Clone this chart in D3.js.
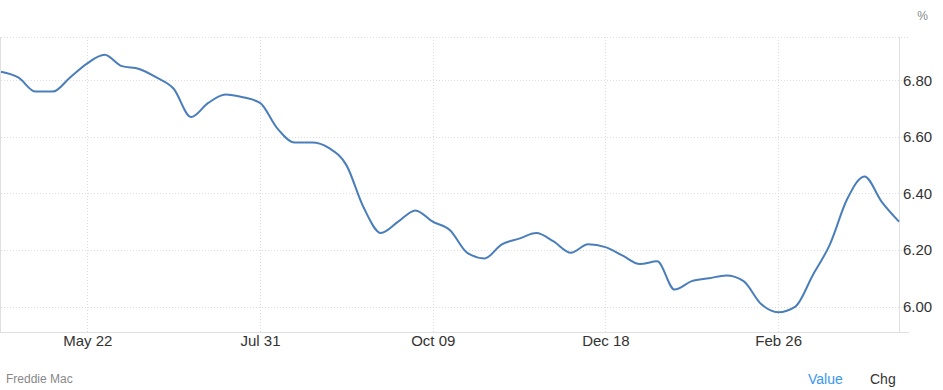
<!DOCTYPE html>
<html>
<head>
<meta charset="utf-8">
<script src="https://cdn.jsdelivr.net/npm/d3@7"></script>
<style>
  body { margin: 0; background: #fff; }
  svg { display: block; font-family: "Liberation Sans", Arial, sans-serif; }
</style>
</head>
<body>
<svg id="chart" width="943" height="390"></svg>
<script>
// weekly 30y rate, Freddie Mac
const dates = [
  '2025-04-17', '2025-04-24', '2025-05-01', '2025-05-08', '2025-05-15', '2025-05-22',
  '2025-05-29', '2025-06-05', '2025-06-12', '2025-06-19', '2025-06-26', '2025-07-03',
  '2025-07-10', '2025-07-17', '2025-07-24', '2025-07-31', '2025-08-07', '2025-08-14',
  '2025-08-21', '2025-08-28', '2025-09-04', '2025-09-11', '2025-09-18', '2025-09-25',
  '2025-10-02', '2025-10-09', '2025-10-16', '2025-10-23', '2025-10-30', '2025-11-06',
  '2025-11-13', '2025-11-20', '2025-11-27', '2025-12-04', '2025-12-11', '2025-12-18',
  '2025-12-25', '2026-01-01', '2026-01-08', '2026-01-15', '2026-01-22', '2026-01-29',
  '2026-02-05', '2026-02-12', '2026-02-19', '2026-02-26', '2026-03-05', '2026-03-12',
  '2026-03-19', '2026-03-26', '2026-04-02', '2026-04-09', '2026-04-16',
];
const rates = [
  6.83, 6.81, 6.76, 6.76, 6.81, 6.86,
  6.89, 6.85, 6.84, 6.81, 6.77, 6.67,
  6.72, 6.75, 6.74, 6.72, 6.63, 6.58,
  6.58, 6.56, 6.50, 6.35, 6.26, 6.30,
  6.34, 6.30, 6.27, 6.19, 6.17, 6.22,
  6.24, 6.26, 6.23, 6.19, 6.22, 6.21,
  6.18, 6.15, 6.16, 6.06, 6.09, 6.10,
  6.11, 6.09, 6.01, 5.98, 6.00, 6.11,
  6.22, 6.38, 6.46, 6.37, 6.30,
];
const xTicks = ['2025-05-22', '2025-07-31', '2025-10-09', '2025-12-18', '2026-02-26'];
const yTicks = [6.0, 6.2, 6.4, 6.6, 6.8];

const parse = d3.timeParse('%Y-%m-%d');
const data = dates.map((d, i) => ({ date: parse(d), value: rates[i] }));

const svg = d3.select('#chart');
const plotLeft = 1, plotRight = 899, plotTop = 37, plotBottom = 332;

const x = d3.scaleTime()
  .domain(d3.extent(data, d => d.date))
  .range([plotLeft, plotRight]);
const y = d3.scaleLinear()
  .domain([5.91, 6.953])
  .range([plotBottom, plotTop]);

const grid = svg.append('g').attr('class', 'grid');

// horizontal grid
grid.selectAll('line.h')
  .data(yTicks.concat([6.953]))
  .join('line')
  .attr('class', 'h')
  .attr('x1', plotLeft)
  .attr('x2', 909)
  .attr('y1', d => Math.round(y(d)) + 0.5)
  .attr('y2', d => Math.round(y(d)) + 0.5)
  .attr('stroke', '#dddddd')
  .attr('stroke-dasharray', '1,2');

// vertical grid
grid.selectAll('line.v')
  .data(xTicks.map(parse))
  .join('line')
  .attr('class', 'v')
  .attr('x1', d => Math.round(x(d)) + 0.5)
  .attr('x2', d => Math.round(x(d)) + 0.5)
  .attr('y1', plotTop)
  .attr('y2', plotBottom)
  .attr('stroke', '#dddddd')
  .attr('stroke-dasharray', '1,2');

// frame lines
grid.append('line')
  .attr('x1', 0.5).attr('x2', 0.5)
  .attr('y1', plotTop).attr('y2', plotBottom)
  .attr('stroke', '#e0e0e0');
grid.append('line')
  .attr('x1', plotRight + 0.5).attr('x2', plotRight + 0.5)
  .attr('y1', plotTop).attr('y2', plotBottom)
  .attr('stroke', '#e0e0e0');
grid.append('line')
  .attr('x1', 0).attr('x2', 909)
  .attr('y1', plotBottom + 0.5).attr('y2', plotBottom + 0.5)
  .attr('stroke', '#e0e0e0');

// axes
const xAxis = d3.axisBottom(x)
  .tickValues(xTicks.map(parse))
  .tickFormat(d3.timeFormat('%b %d'))
  .tickSize(0)
  .tickPadding(3);
svg.append('g')
  .attr('transform', `translate(0,${plotBottom})`)
  .call(xAxis)
  .call(g => g.select('.domain').remove())
  .selectAll('text')
  .attr('font-size', 15)
  .attr('font-family', '"Liberation Sans", Arial, sans-serif')
  .attr('fill', '#333');

const yAxis = d3.axisRight(y)
  .tickValues(yTicks)
  .tickFormat(d3.format('.2f'))
  .tickSize(0)
  .tickPadding(4);
svg.append('g')
  .attr('transform', `translate(${plotRight},0)`)
  .call(yAxis)
  .call(g => g.select('.domain').remove())
  .selectAll('text')
  .attr('font-size', 15)
  .attr('font-family', '"Liberation Sans", Arial, sans-serif')
  .attr('fill', '#333');

// line
const line = d3.line()
  .x(d => x(d.date))
  .y(d => y(d.value))
  .curve(d3.curveMonotoneX);

svg.append('path')
  .datum(data)
  .attr('fill', 'none')
  .attr('stroke', '#4a7ebb')
  .attr('stroke-width', 2)
  .attr('d', line);

// labels
svg.append('text')
  .attr('x', 928).attr('y', 20)
  .attr('text-anchor', 'end')
  .attr('font-size', 12)
  .attr('fill', '#888')
  .text('%');

svg.append('text')
  .attr('x', 6).attr('y', 383)
  .attr('font-size', 12)
  .attr('fill', '#888')
  .text('Freddie Mac');

svg.append('text')
  .attr('x', 808).attr('y', 384)
  .attr('font-size', 14)
  .attr('fill', '#3a96f0')
  .text('Value');

svg.append('text')
  .attr('x', 870).attr('y', 384)
  .attr('font-size', 14)
  .attr('fill', '#333')
  .text('Chg');
</script>
</body>
</html>
